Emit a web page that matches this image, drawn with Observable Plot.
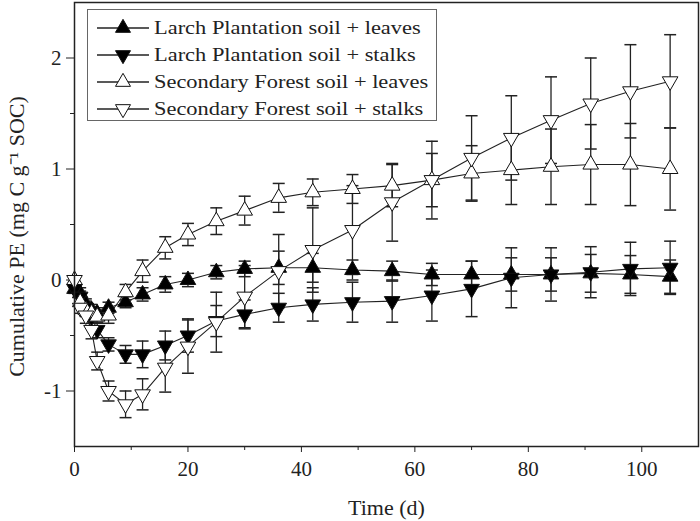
<!DOCTYPE html>
<html><head><meta charset="utf-8">
<script src="https://cdn.jsdelivr.net/npm/d3@7"></script>
<script src="https://cdn.jsdelivr.net/npm/@observablehq/plot@0.6"></script>
<style>
body{margin:0;background:#fff;}
#wrap{position:relative;width:700px;height:521px;}
#legend{position:absolute;left:87px;top:9px;width:350px;height:112px;border:1px solid #666;background:#fff;box-sizing:border-box;font-family:"Liberation Serif",serif;font-size:19px;color:#222;}
.row{position:absolute;left:9px;height:22px;display:flex;align-items:center;white-space:nowrap;}
.row svg{margin-right:5px;}
.row span{display:inline-block;transform:scaleX(1.18);transform-origin:0 50%;}
</style></head>
<body><div id="wrap"><div id="chart"></div><div id="legend"></div></div>
<script>
const days = [0,1,2,3,4,6,9,12,16,20,25,30,36,42,49,56,63,70,77,84,91,98,105];
const seriesNames = ["Larch Plantation soil + leaves","Larch Plantation soil + stalks","Secondary Forest soil + leaves","Secondary Forest soil + stalks"];
const larchLeaves = [-0.08,-0.12,-0.22,-0.27,-0.3,-0.25,-0.2,-0.13,-0.04,0.0,0.07,0.1,0.11,0.11,0.09,0.08,0.05,0.05,0.05,0.05,0.06,0.05,0.03];
const larchLeavesErr = [0.04,0.05,0.05,0.05,0.05,0.05,0.05,0.06,0.07,0.06,0.06,0.07,0.15,0.13,0.09,0.09,0.1,0.12,0.15,0.15,0.17,0.17,0.15];
const larchStalks = [-0.08,-0.15,-0.25,-0.33,-0.45,-0.58,-0.67,-0.67,-0.59,-0.5,-0.37,-0.31,-0.25,-0.22,-0.2,-0.19,-0.14,-0.08,0.02,0.05,0.07,0.1,0.11];
const larchStalksErr = [0.04,0.05,0.06,0.06,0.07,0.06,0.08,0.12,0.13,0.15,0.14,0.13,0.13,0.15,0.18,0.19,0.23,0.25,0.27,0.24,0.23,0.24,0.24];
const forestLeaves = [0.0,-0.2,-0.27,-0.3,-0.33,-0.32,-0.11,0.08,0.29,0.41,0.53,0.625,0.74,0.79,0.82,0.85,0.9,0.96,0.99,1.02,1.04,1.04,1.0];
const forestLeavesErr = [0.03,0.05,0.06,0.06,0.06,0.07,0.07,0.1,0.1,0.1,0.12,0.13,0.13,0.12,0.13,0.19,0.24,0.25,0.31,0.34,0.36,0.37,0.37];
const forestStalks = [0.0,-0.25,-0.32,-0.45,-0.73,-1.0,-1.12,-1.03,-0.79,-0.6,-0.38,-0.15,0.08,0.27,0.45,0.7,0.9,1.1,1.28,1.44,1.59,1.7,1.79];
const forestStalksErr = [0.03,0.05,0.07,0.08,0.08,0.09,0.12,0.14,0.22,0.24,0.27,0.28,0.33,0.38,0.4,0.35,0.35,0.38,0.38,0.39,0.41,0.42,0.42];
const xTicks = [0,20,40,60,80,100];
const xMinor = [10,30,50,70,90];
const yTicks = [-1,0,1,2];
const yMinor = [-0.5,0.5,1.5];

const values = [larchLeaves, larchStalks, forestLeaves, forestStalks];
const errors = [larchLeavesErr, larchStalksErr, forestLeavesErr, forestStalksErr];
const filled = [true, true, false, false];
const down = [false, true, false, true];

const rows = [];
seriesNames.forEach((s, i) => days.forEach((t, j) => rows.push({series: s, i, t, y: values[i][j], e: errors[i][j]})));

const cap = {draw(ctx, size) { const w = Math.sqrt(size / Math.PI); ctx.moveTo(-w, 0); ctx.lineTo(w, 0); }};
const font = "Liberation Serif";

const chart = Plot.plot({
  width: 700, height: 521,
  marginLeft: 74, marginRight: 2, marginTop: 2, marginBottom: 75,
  style: {fontFamily: font, fontSize: "21px", background: "#fff", color: "#222"},
  x: {domain: [0, 110]},
  y: {domain: [-1.5, 2.5]},
  marks: [
    Plot.axisX({ticks: xMinor, tickSize: 4, tickFormat: () => "", label: null}),
    Plot.axisY({ticks: yMinor, tickSize: 4, tickFormat: () => "", label: null}),
    Plot.axisX({ticks: xTicks, tickSize: 6, tickPadding: 9, fontSize: 21, tickFormat: d => String(d),
      label: "Time (d)", labelAnchor: "center", labelArrow: "none", labelOffset: 68}),
    Plot.axisY({ticks: yTicks, tickSize: 8, tickPadding: 5, fontSize: 21, tickFormat: d => String(d),
      label: "Cumulative PE (mg C g\u207B\u00B9 SOC)", labelAnchor: "center", labelArrow: "none", labelOffset: 66}),
    Plot.line(rows, {x: "t", y: "y", z: "series", stroke: "#222", strokeWidth: 1.1}),
    Plot.ruleX(rows, {x: "t", y1: d => d.y - d.e, y2: d => d.y + d.e, stroke: "#222", strokeWidth: 1.3}),
    Plot.dot(rows, {x: "t", y: d => d.y + d.e, symbol: cap, r: 6, stroke: "#222", strokeWidth: 1.5, fill: "none"}),
    Plot.dot(rows, {x: "t", y: d => d.y - d.e, symbol: cap, r: 6, stroke: "#222", strokeWidth: 1.5, fill: "none"}),
    Plot.dot(rows, {x: "t", y: "y", symbol: "triangle", r: 5.8,
      rotate: d => down[d.i] ? 180 : 0,
      fill: d => filled[d.i] ? "#000" : "#fff", stroke: "#111", strokeWidth: 1}),
    Plot.frame({stroke: "#222", strokeWidth: 1.5})
  ]
});
// axis titles slightly larger than tick labels
chart.querySelectorAll("[aria-label='x-axis label'] text, [aria-label='y-axis label'] text").forEach(t => t.setAttribute("font-size", "22"));
chart.querySelectorAll("[aria-label='y-axis label']").forEach(g => {
  const tr = g.getAttribute("transform") || "";
  g.setAttribute("transform", (tr + " translate(0,12)").trim());
});
document.getElementById("chart").appendChild(chart);

// legend
const lg = document.getElementById("legend");
const tri = (dn, fill) => {
  const h = 4.33;
  const pts = dn ? `26,${11 + 2*h} ${26 - Math.sqrt(3)*h},${11 - h} ${26 + Math.sqrt(3)*h},${11 - h}`
                 : `26,${11 - 2*h} ${26 - Math.sqrt(3)*h},${11 + h} ${26 + Math.sqrt(3)*h},${11 + h}`;
  return `<svg width="52" height="22"><line x1="0" x2="52" y1="11" y2="11" stroke="#222" stroke-width="1.3"/><polygon points="${pts}" fill="${fill}" stroke="#111" stroke-width="1"/></svg>`;
};
seriesNames.forEach((s, i) => {
  const r = document.createElement("div");
  r.className = "row";
  r.style.top = (7 + i * 27) + "px";
  r.innerHTML = tri(down[i], filled[i] ? "#000" : "#fff") + `<span>${s}</span>`;
  lg.appendChild(r);
});
</script>
</body></html>
